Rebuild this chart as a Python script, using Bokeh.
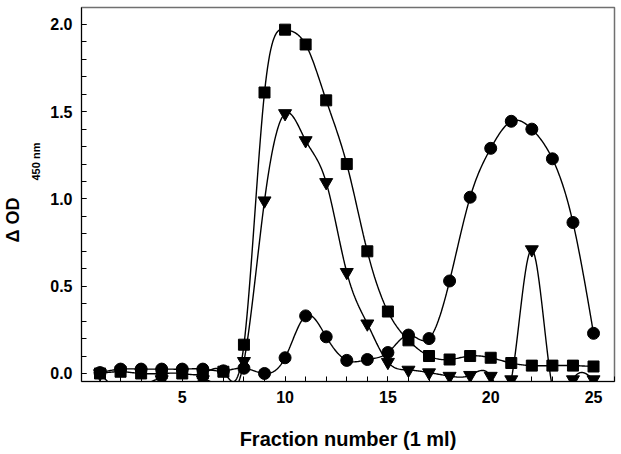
import numpy as np
from bokeh.plotting import figure
from bokeh.models import Range1d, Title, FixedTicker
from bokeh.embed import file_html
from bokeh.resources import INLINE

fractions = list(range(1, 26))
squares = [0.0, 0.01, 0.0, 0.0, 0.0, 0.0, 0.01, 0.165, 1.61, 1.97, 1.885, 1.565,
           1.20, 0.70, 0.355, 0.19, 0.10, 0.08, 0.10, 0.09, 0.06, 0.045, 0.045, 0.045, 0.04]
circles = [0.005, 0.025, 0.025, 0.025, 0.025, 0.025, 0.015, 0.03, 0.0, 0.09, 0.33, 0.21,
           0.075, 0.08, 0.12, 0.22, 0.20, 0.53, 1.01, 1.29, 1.445, 1.40, 1.23, 0.865, 0.23]
triangles = [0.0, -0.1, -0.08, -0.035, -0.09, -0.035, -0.1, 0.07, 0.99, 1.49, 1.335, 1.095,
             0.58, 0.285, 0.065, 0.02, 0.005, -0.015, -0.01, -0.015, -0.035, 0.71, -0.08, -0.035, -0.035]

x_major = [5, 10, 15, 20, 25]
y_major = [0.0, 0.5, 1.0, 1.5, 2.0]


def natural_spline(x, y, n=20):
    x = np.asarray(x, float)
    y = np.asarray(y, float)
    N = len(x)
    h = np.diff(x)
    A = np.zeros((N, N))
    b = np.zeros(N)
    A[0, 0] = A[-1, -1] = 1.0
    for i in range(1, N - 1):
        A[i, i - 1] = h[i - 1]
        A[i, i] = 2 * (h[i - 1] + h[i])
        A[i, i + 1] = h[i]
        b[i] = 6 * ((y[i + 1] - y[i]) / h[i] - (y[i] - y[i - 1]) / h[i - 1])
    M = np.linalg.solve(A, b)
    xs, ys = [], []
    for i in range(N - 1):
        t = np.linspace(x[i], x[i + 1], n, endpoint=False)
        hi = h[i]
        s = (M[i] * (x[i + 1] - t) ** 3 / (6 * hi) + M[i + 1] * (t - x[i]) ** 3 / (6 * hi)
             + (y[i] / hi - M[i] * hi / 6) * (x[i + 1] - t)
             + (y[i + 1] / hi - M[i + 1] * hi / 6) * (t - x[i]))
        xs.extend(t.tolist())
        ys.extend(s.tolist())
    xs.append(x[-1])
    ys.append(y[-1])
    return xs, ys


FONT = "Liberation Sans"

p = figure(width=621, height=454, x_range=Range1d(0.1, 26.02), y_range=Range1d(-0.046, 2.097),
           output_backend="svg", toolbar_location=None,
           min_border_left=80, min_border_right=7, min_border_top=7, min_border_bottom=73)
p.grid.visible = False
p.outline_line_color = "#707070"
p.outline_line_width = 1.5
p.background_fill_color = "white"
p.border_fill_color = "white"

p.xaxis.ticker = FixedTicker(ticks=x_major, minor_ticks=list(range(0, 27)))
p.yaxis.ticker = FixedTicker(ticks=y_major, minor_ticks=[i / 10 for i in range(0, 21)])
p.yaxis.major_label_overrides = {v: f"{v:.1f}" for v in y_major}
for ax in (p.xaxis, p.yaxis):
    ax.major_tick_in = 5
    ax.major_tick_out = 0
    ax.minor_tick_in = 5
    ax.minor_tick_out = 0
    ax.axis_line_color = "black"
    ax.axis_line_width = 1
    ax.major_tick_line_color = "black"
    ax.minor_tick_line_color = "black"
    ax.major_label_text_font = FONT
    ax.major_label_text_font_style = "bold"
    ax.major_label_text_font_size = "16px"
    ax.major_label_text_color = "black"
p.xaxis.major_label_standoff = 9
p.yaxis.major_label_standoff = 9
p.xaxis.axis_label = "Fraction number (1 ml)"
p.xaxis.axis_label_text_font = FONT
p.xaxis.axis_label_text_font_style = "bold"
p.xaxis.axis_label_text_font_size = "20px"
p.xaxis.axis_label_text_color = "black"
p.xaxis.axis_label_standoff = 22

for series in (squares, triangles, circles):
    sx, sy = natural_spline(fractions, series)
    p.line(sx, sy, line_color="black", line_width=1.4)

p.scatter(fractions, squares, marker="square", size=11, color="black")
p.scatter(fractions, triangles, marker="inverted_triangle", size=13, color="black")
p.scatter(fractions, circles, marker="circle", size=12, color="black")

sub = Title(text="450 nm", align="left", offset=201, standoff=11,
            text_font=FONT, text_font_style="bold", text_font_size="11px", text_color="black")
main = Title(text="Δ OD", align="left", offset=139, standoff=0,
             text_font=FONT, text_font_style="bold", text_font_size="18px", text_color="black")
p.add_layout(sub, "left")
p.add_layout(main, "left")

open("out.html", "w").write(file_html(p, INLINE))
